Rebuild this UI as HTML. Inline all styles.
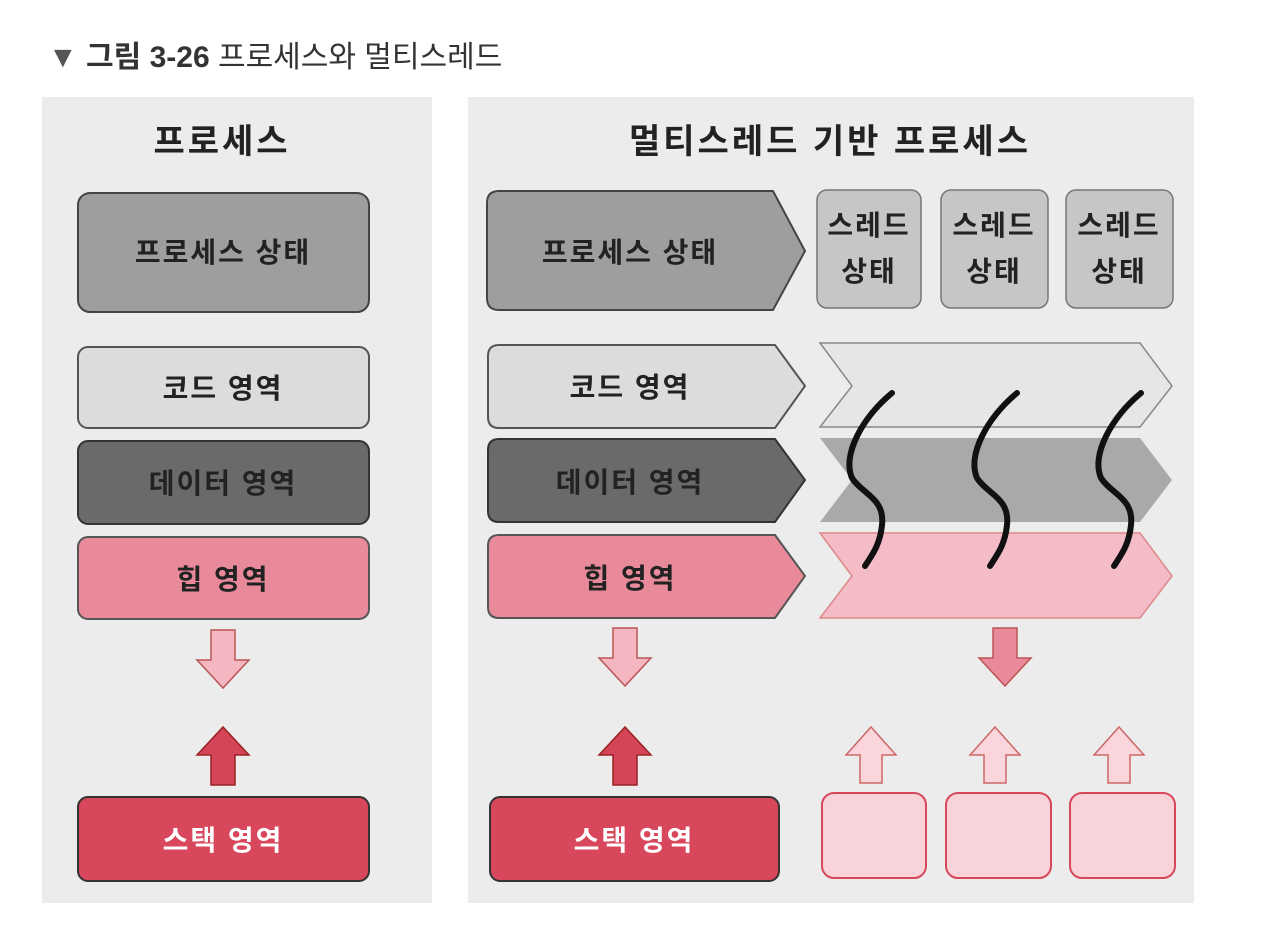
<!DOCTYPE html>
<html><head><meta charset="utf-8"><style>
body{margin:0;background:#fff;}
svg{display:block;font-family:"Liberation Sans","Noto Sans CJK KR","NanumGothic",sans-serif;}
.t{font-size:28px;font-weight:bold;fill:#222;text-anchor:middle;letter-spacing:2px;}
</style></head><body>
<svg width="1263" height="941" viewBox="0 0 1263 941">
<text x="48" y="67" font-size="30" fill="#333"><tspan fill="#555">▼</tspan> <tspan font-weight="bold">그림 3-26</tspan> 프로세스와 멀티스레드</text>

<rect x="42" y="97" width="390" height="806" fill="#ececec"/>
<rect x="468" y="97" width="726" height="806" fill="#ececec"/>

<text class="t" x="222" y="153" style="font-size:34px;letter-spacing:3px">프로세스</text>
<text class="t" x="830" y="153" style="font-size:34px;letter-spacing:3px">멀티스레드 기반 프로세스</text>

<!-- left -->
<g><rect x="78" y="193" width="291" height="119" rx="12" fill="#9e9e9e" stroke="#444" stroke-width="2"/><text class="t" x="223" y="262">프로세스 상태</text></g>
<g><rect x="78" y="347" width="291" height="81" rx="10" fill="#dcdcdc" stroke="#555" stroke-width="2"/><text class="t" x="223" y="398">코드 영역</text></g>
<g><rect x="78" y="441" width="291" height="83" rx="10" fill="#6a6a6a" stroke="#333" stroke-width="2"/><text class="t" x="223" y="493">데이터 영역</text></g>
<g><rect x="78" y="537" width="291" height="82" rx="10" fill="#e98a9b" stroke="#555" stroke-width="2"/><text class="t" x="223" y="589">힙 영역</text></g>
<path d="M211,630 h24 v30 h14 l-26,28 l-26,-28 h14 z" fill="#f4b6c0" stroke="#b55" stroke-width="1.5"/>
<path d="M211,785 h24 v-30 h14 l-26,-28 l-26,28 h14 z" fill="#d4455a" stroke="#922" stroke-width="1.5"/>
<g><rect x="78" y="797" width="291" height="84" rx="10" fill="#d8475c" stroke="#333" stroke-width="2"/><text class="t" x="223" y="850" style="fill:#fff">스택 영역</text></g>

<!-- right -->
<g><path d="M499,191 H773 L805,251 L773,310 H499 Q487,310 487,298 V203 Q487,191 499,191 Z" fill="#9e9e9e" stroke="#444" stroke-width="2"/><text class="t" x="630" y="262">프로세스 상태</text></g>
<g><rect x="817" y="190" width="104" height="118" rx="10" fill="#c6c6c6" stroke="#777" stroke-width="1.5"/><text class="t" x="869" y="235">스레드</text><text class="t" x="869" y="281">상태</text></g>
<g><rect x="941" y="190" width="107" height="118" rx="10" fill="#c6c6c6" stroke="#777" stroke-width="1.5"/><text class="t" x="994" y="235">스레드</text><text class="t" x="994" y="281">상태</text></g>
<g><rect x="1066" y="190" width="107" height="118" rx="10" fill="#c6c6c6" stroke="#777" stroke-width="1.5"/><text class="t" x="1119" y="235">스레드</text><text class="t" x="1119" y="281">상태</text></g>

<g><path d="M499,345 H775 L805,386 L775,428 H499 Q488,428 488,417 V356 Q488,345 499,345 Z" fill="#dcdcdc" stroke="#555" stroke-width="2"/><text class="t" x="630" y="397">코드 영역</text></g>
<g><path d="M499,439 H775 L805,480 L775,522 H499 Q488,522 488,511 V450 Q488,439 499,439 Z" fill="#6a6a6a" stroke="#333" stroke-width="2"/><text class="t" x="630" y="492">데이터 영역</text></g>
<g><path d="M499,535 H775 L805,576 L775,618 H499 Q488,618 488,607 V546 Q488,535 499,535 Z" fill="#e98a9b" stroke="#555" stroke-width="2"/><text class="t" x="630" y="588">힙 영역</text></g>

<path d="M820,343 H1140 L1172,386 L1140,427 H820 L852,386 Z" fill="#e6e6e6" stroke="#888" stroke-width="1.5"/>
<path d="M820,438 H1140 L1172,480 L1140,522 H820 L852,480 Z" fill="#a9a9a9"/>
<path d="M820,533 H1140 L1172,576 L1140,618 H820 L852,576 Z" fill="#f4bcc6" stroke="#d88" stroke-width="1.5"/>

<g fill="none" stroke="#111" stroke-width="6" stroke-linecap="round">
<path d="M892,393 C862,418 842,455 852,478 C862,494 885,498 882,525 C880,545 872,555 865,566"/>
<path d="M1017,393 C987,418 967,455 977,478 C987,494 1010,498 1007,525 C1005,545 997,555 990,566"/>
<path d="M1141,393 C1111,418 1091,455 1101,478 C1111,494 1134,498 1131,525 C1129,545 1121,555 1114,566"/>
</g>

<path d="M613,628 h24 v30 h14 l-26,28 l-26,-28 h14 z" fill="#f4b6c0" stroke="#b55" stroke-width="1.5"/>
<path d="M993,628 h24 v30 h14 l-26,28 l-26,-28 h14 z" fill="#e98a9b" stroke="#b55" stroke-width="1.5"/>
<path d="M613,785 h24 v-30 h14 l-26,-28 l-26,28 h14 z" fill="#d4455a" stroke="#922" stroke-width="1.5"/>
<path d="M860,783 h22 v-28 h14 l-25,-28 l-25,28 h14 z" fill="#fad6dc" stroke="#c66" stroke-width="1.5"/>
<path d="M984,783 h22 v-28 h14 l-25,-28 l-25,28 h14 z" fill="#fad6dc" stroke="#c66" stroke-width="1.5"/>
<path d="M1108,783 h22 v-28 h14 l-25,-28 l-25,28 h14 z" fill="#fad6dc" stroke="#c66" stroke-width="1.5"/>

<g><rect x="490" y="797" width="289" height="84" rx="10" fill="#d8475c" stroke="#333" stroke-width="2"/><text class="t" x="634" y="850" style="fill:#fff">스택 영역</text></g>
<rect x="822" y="793" width="104" height="85" rx="12" fill="#f8d4da" stroke="#d8475c" stroke-width="2"/>
<rect x="946" y="793" width="105" height="85" rx="12" fill="#f8d4da" stroke="#d8475c" stroke-width="2"/>
<rect x="1070" y="793" width="105" height="85" rx="12" fill="#f8d4da" stroke="#d8475c" stroke-width="2"/>
</svg>
</body></html>
